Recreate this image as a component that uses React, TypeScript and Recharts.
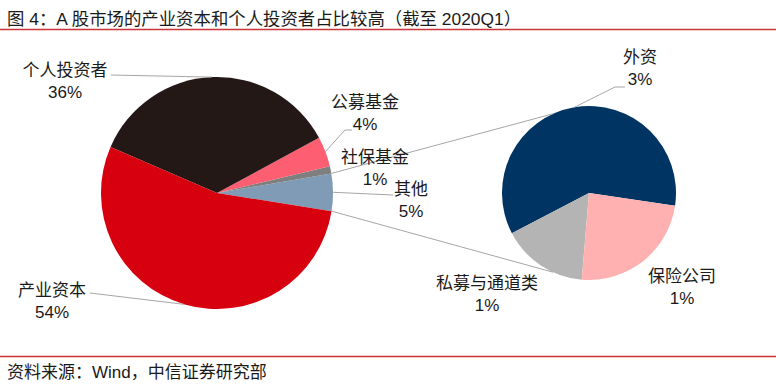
import React from 'react'
import { PieChart, Pie, Cell } from 'recharts'

// left pie: A-share holders, right pie: breakdown of 其他
const leftNames = ['其他', '社保基金', '公募基金', '个人投资者', '产业资本']
const leftValues = [5.2, 1.0, 4.2, 35.6, 54.0]
const leftLabels = ['5%', '1%', '4%', '36%', '54%']

const rightNames = ['外资', '私募与通道类', '保险公司']
const rightValues = [3.0, 0.8, 1.2]
const rightLabels = ['3%', '1%', '1%']

const leftData = leftNames.map((name, i) => ({ name, value: leftValues[i], label: leftLabels[i] }))
const rightData = rightNames.map((name, i) => ({ name, value: rightValues[i], label: rightLabels[i] }))

const leftColors = ['#7f9bb6', '#7f7f7f', '#fd5e71', '#231815', '#d7000f']
const rightColors = ['#003463', '#b4b4b4', '#ffb1b1']

const FONT = '"Liberation Sans", "Noto Sans CJK SC", sans-serif'
const LEADER = '#a6a6a6'

const LEFT = { cx: 217, cy: 193, r: 116 }
const RIGHT = { cx: 589, cy: 193, r: 87 }

// label placement: text centre and leader points beyond the slice edge
const labelLayout: Record<string, { x: number; y: number; leader: number[][] }> = {
  其他: { x: 411, y: 189, leader: [[393, 195]] },
  社保基金: { x: 375, y: 157, leader: [] },
  公募基金: { x: 365, y: 102, leader: [[345, 130], [352, 130]] },
  个人投资者: { x: 65, y: 70, leader: [[111, 75]] },
  产业资本: { x: 52, y: 290, leader: [[90, 293]] },
  外资: { x: 640, y: 57, leader: [[615, 87], [625, 87]] },
  私募与通道类: { x: 487, y: 283, leader: [] },
  保险公司: { x: 682, y: 276, leader: [] },
}

const RAD = Math.PI / 180
const polar = (cx: number, cy: number, r: number, a: number) => [cx + r * Math.cos(a * RAD), cy - r * Math.sin(a * RAD)]

const renderLabel = (props: any) => {
  const { cx, cy, midAngle, outerRadius, name, payload, startAngle, endAngle } = props
  const lay = labelLayout[name]
  if (!lay) return null
  const start = polar(cx, cy, outerRadius, midAngle)
  const pts = [start, ...lay.leader]
  let connectors = null
  if (name === '其他') {
    const a = polar(cx, cy, outerRadius, endAngle)
    const b = polar(cx, cy, outerRadius, startAngle)
    const a2 = polar(RIGHT.cx, RIGHT.cy, RIGHT.r, 114.5)
    const b2 = polar(RIGHT.cx, RIGHT.cy, RIGHT.r, 245.5)
    connectors = (
      <g stroke={LEADER} strokeWidth={1}>
        <line x1={a[0]} y1={a[1]} x2={a2[0]} y2={a2[1]} />
        <line x1={b[0]} y1={b[1]} x2={b2[0]} y2={b2[1]} />
      </g>
    )
  }
  return (
    <g>
      {connectors}
      {lay.leader.length > 0 && (
        <polyline points={pts.map((p) => p.join(',')).join(' ')} fill="none" stroke={LEADER} strokeWidth={1} />
      )}
      <text x={lay.x} y={lay.y} textAnchor="middle" dominantBaseline="central" fontSize={17} fill="#1a1a1a" fontFamily={FONT}>
        {name}
      </text>
      <text x={lay.x} y={lay.y + 22} textAnchor="middle" dominantBaseline="central" fontSize={17} fill="#1a1a1a" fontFamily={FONT}>
        {payload?.label ?? props.label}
      </text>
    </g>
  )
}

const App: React.FC = () => {
  return (
    <div style={{ position: 'absolute', left: 0, top: 0, width: 776, height: 384, background: '#fff', fontFamily: FONT }}>
      <svg width={776} height={384} style={{ position: 'absolute', left: 0, top: 0 }}>
        <text x={7} y={25} fontSize={17.4} fill="#1a1a1a" fontFamily={FONT}>
          图 4：A 股市场的产业资本和个人投资者占比较高（截至 2020Q1）
        </text>
        <line x1={0} y1={29.5} x2={776} y2={29.5} stroke="#c9353b" strokeWidth={1.3} />
        <line x1={0} y1={356.5} x2={776} y2={356.5} stroke="#c9353b" strokeWidth={1.3} />
        <text x={7} y={378} fontSize={17} fill="#1a1a1a" fontFamily={FONT}>
          资料来源：Wind，中信证券研究部
        </text>
      </svg>
      <div style={{ position: 'absolute', left: 0, top: 0 }}>
        <PieChart width={776} height={384} margin={{ top: 0, right: 0, bottom: 0, left: 0 }}>
          <Pie
            data={leftData}
            dataKey="value"
            nameKey="name"
            cx={LEFT.cx}
            cy={LEFT.cy}
            outerRadius={LEFT.r}
            startAngle={-9}
            endAngle={351}
            stroke="none"
            labelLine={false}
            label={renderLabel}
            isAnimationActive={false}
          >
            {leftData.map((_e, i) => (
              <Cell key={`l-${i}`} fill={leftColors[i]} />
            ))}
          </Pie>
          <Pie
            data={rightData}
            dataKey="value"
            nameKey="name"
            cx={RIGHT.cx}
            cy={RIGHT.cy}
            outerRadius={RIGHT.r}
            startAngle={-8.4}
            endAngle={351.6}
            stroke="none"
            labelLine={false}
            label={renderLabel}
            isAnimationActive={false}
          >
            {rightData.map((_e, i) => (
              <Cell key={`r-${i}`} fill={rightColors[i]} />
            ))}
          </Pie>
        </PieChart>
      </div>
    </div>
  )
}

export default App
